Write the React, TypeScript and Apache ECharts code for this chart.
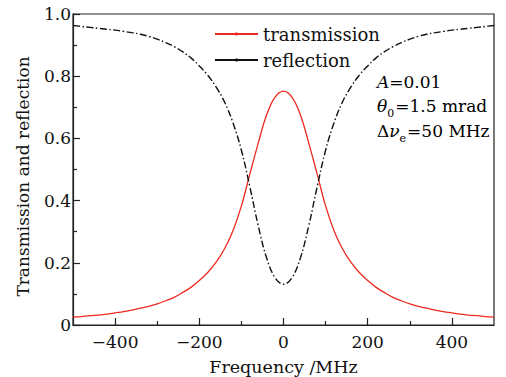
import React, { useEffect, useRef } from 'react';
import * as echarts from 'echarts';

const FONT = '"DejaVu Serif", "Liberation Serif", serif';

const freqs = [
  -500, -480, -460, -440, -420, -400, -380, -360, -340, -320, -300, -280, -260, -240, -220, -200, -180, -160, -140, -120, -100, -80, -60, -40, -20,
  0,
  20, 40, 60, 80, 100, 120, 140, 160, 180, 200, 220, 240, 260, 280, 300, 320, 340, 360, 380, 400, 420, 440, 460, 480, 500,
];

const transmission = [
  0.025, 0.027, 0.030, 0.032, 0.035, 0.039, 0.043, 0.048, 0.054, 0.060, 0.068, 0.078, 0.089, 0.104, 0.121, 0.143, 0.169, 0.202, 0.245, 0.303, 0.383, 0.485, 0.585, 0.676, 0.733,
  0.752,
  0.733, 0.676, 0.585, 0.485, 0.383, 0.303, 0.245, 0.202, 0.169, 0.143, 0.121, 0.104, 0.089, 0.078, 0.068, 0.060, 0.054, 0.048, 0.043, 0.039, 0.035, 0.032, 0.030, 0.027, 0.025,
];

const reflection = [
  0.963, 0.960, 0.957, 0.954, 0.951, 0.948, 0.944, 0.940, 0.935, 0.928, 0.919, 0.908, 0.895, 0.879, 0.859, 0.833, 0.803, 0.765, 0.717, 0.650, 0.562, 0.445, 0.319, 0.215, 0.152,
  0.131,
  0.152, 0.215, 0.319, 0.445, 0.562, 0.650, 0.717, 0.765, 0.803, 0.833, 0.859, 0.879, 0.895, 0.908, 0.919, 0.928, 0.935, 0.940, 0.944, 0.948, 0.951, 0.954, 0.957, 0.960, 0.963,
];

const xMajorTicks = [-400, -200, 0, 200, 400];
const xMinorTicks = [-300, -100, 100, 300];

const RED = '#ec2a1f';
const BLACK = '#111111';

export default function App() {
  const ref = useRef<HTMLDivElement>(null);

  useEffect(() => {
    const chart = echarts.init(ref.current!, null, { renderer: 'svg' });
    const main = { fontFamily: FONT, fontSize: 17, color: BLACK, verticalAlign: 'bottom', padding: [0, 0, 5, 0] };
    const ital = { ...main, fontStyle: 'italic' };
    const sub = { fontFamily: FONT, fontSize: 11, color: BLACK, verticalAlign: 'bottom', padding: [0, 1, 0, 0] };
    const rich = { n: main, i: ital, s: sub };

    chart.setOption({
      animation: false,
      backgroundColor: '#ffffff',
      grid: [
        { left: 73, right: 12, top: 14, bottom: 52, outerBoundsMode: 'none', containLabel: false, show: true, borderColor: '#222', borderWidth: 1.2, backgroundColor: 'transparent' },
        { left: 73, right: 12, top: 14, bottom: 52, outerBoundsMode: 'none', containLabel: false, show: false },
      ],
      legend: {
        orient: 'vertical',
        left: 214,
        top: 25,
        padding: 0,
        itemWidth: 43,
        itemHeight: 4,
        itemGap: 8,
        lineStyle: { type: 'solid' },
        textStyle: { fontFamily: FONT, fontSize: 18, color: BLACK },
        data: ['transmission', 'reflection'],
      },
      xAxis: [
        {
          type: 'value',
          gridIndex: 0,
          min: -500,
          max: 500,
          interval: 100,
          position: 'bottom',
          axisLine: { onZero: false, lineStyle: { color: '#222', width: 1.2 } },
          axisTick: { inside: true, length: 7, customValues: xMajorTicks, lineStyle: { color: '#222', width: 1.2 } },
          axisLabel: {
            customValues: xMajorTicks,
            fontFamily: FONT,
            fontSize: 17,
            color: BLACK,
            margin: 8,
            formatter: (v: number) => (v < 0 ? '\u2212' + Math.abs(v) : String(v)),
          },
          splitLine: { show: false },
          name: 'Frequency /MHz',
          nameLocation: 'middle',
          nameGap: 33,
          nameTextStyle: { fontFamily: FONT, fontSize: 17.5, color: BLACK },
        },
        {
          type: 'value',
          gridIndex: 1,
          min: -500,
          max: 500,
          interval: 100,
          position: 'bottom',
          axisLine: { show: false, onZero: false },
          axisTick: { inside: true, length: 4, customValues: xMinorTicks, lineStyle: { color: '#222', width: 1.2 } },
          axisLabel: { show: false },
          splitLine: { show: false },
        },
      ],
      yAxis: [
        {
          type: 'value',
          gridIndex: 0,
          min: 0,
          max: 1,
          interval: 0.2,
          position: 'left',
          axisLine: { show: true, onZero: false, lineStyle: { color: '#222', width: 1.2 } },
          axisTick: { show: true, inside: true, length: 7, lineStyle: { color: '#222', width: 1.2 } },
          minorTick: { show: true, splitNumber: 2, length: 4, lineStyle: { color: '#222', width: 1.2 } },
          axisLabel: {
            fontFamily: FONT,
            fontSize: 17,
            color: BLACK,
            margin: 2,
            formatter: (v: number) => (v === 0 ? '0' : v.toFixed(1)),
          },
          splitLine: { show: false },
          name: 'Transmission and reflection',
          nameLocation: 'middle',
          nameGap: 42,
          nameTextStyle: { fontFamily: FONT, fontSize: 17, color: BLACK, padding: [0, 14, 0, 0] },
        },
        { type: 'value', gridIndex: 1, min: 0, max: 1, show: false, axisLine: { onZero: false } },
      ],
      series: [
        {
          name: 'transmission',
          type: 'line',
          xAxisIndex: 0,
          yAxisIndex: 0,
          data: freqs.map((f, i) => [f, transmission[i]]),
          showSymbol: false,
          symbol: 'circle',
          symbolSize: 3,
          smooth: 0.4,
          lineStyle: { color: RED, width: 1.3 },
          itemStyle: { color: RED },
        },
        {
          name: 'reflection',
          type: 'line',
          xAxisIndex: 0,
          yAxisIndex: 0,
          data: freqs.map((f, i) => [f, reflection[i]]),
          showSymbol: false,
          symbol: 'circle',
          symbolSize: 3,
          smooth: 0.4,
          lineStyle: { color: BLACK, width: 1.4, type: [7, 2.5, 1.5, 2.5] },
          itemStyle: { color: BLACK },
        },
      ],
      graphic: [
        { type: 'text', x: 377, y: 73, style: { text: '{i|A}{n|=0.01}', rich } },
        { type: 'text', x: 377, y: 97, style: { text: '{i|\u03b8}{s|0}{n|=1.5 mrad}', rich } },
        { type: 'text', x: 377, y: 122, style: { text: '{n|\u0394}{i|\u03bd}{s|e}{n|=50 MHz}', rich } },
      ],
    });

    return () => chart.dispose();
  }, []);

  return <div ref={ref} style={{ position: 'absolute', left: 0, top: 0, width: 506, height: 377 }} />;
}
